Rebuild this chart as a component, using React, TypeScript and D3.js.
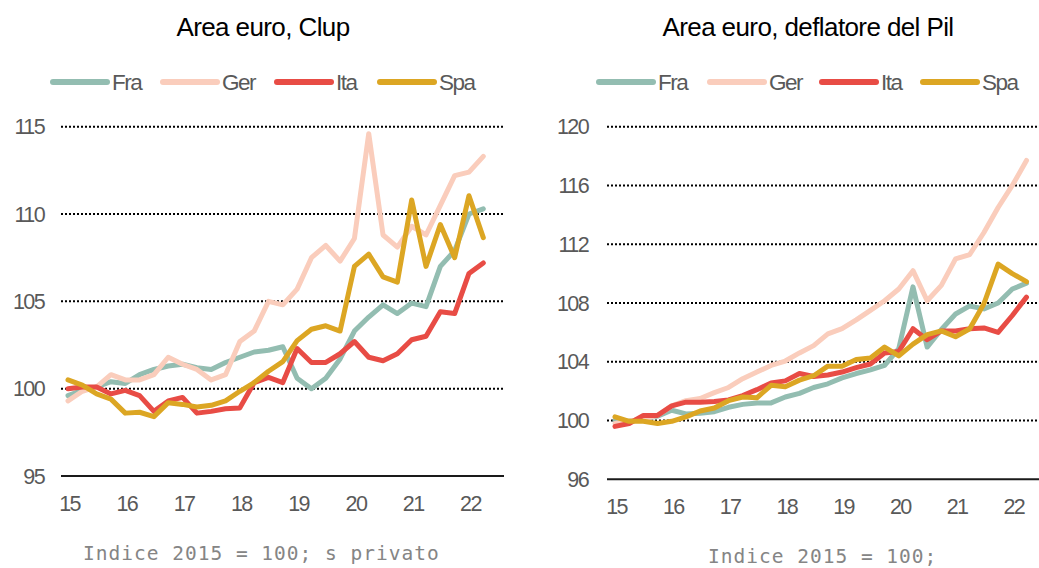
import React from "react";
import * as d3 from "d3";

// quarterly observations 2015Q1 .. 2022Q2
const quarters = d3.range(30);
const yearLabels = ["15", "16", "17", "18", "19", "20", "21", "22"];
const seriesNames = ["Fra", "Ger", "Ita", "Spa"];
const seriesColors = ["#93BDB1", "#FACDBC", "#E84C45", "#DCA623"];

// Left: Clup
const fraClup = [99.6, 99.9, 100.1, 100.4, 100.3, 100.8, 101.1, 101.3, 101.4, 101.2, 101.1, 101.5, 101.8, 102.1, 102.2, 102.4, 100.6, 100.0, 100.6, 101.7, 103.3, 104.1, 104.8, 104.3, 104.9, 104.7, 107.0, 107.9, 110.0, 110.3];
const gerClup = [99.3, 99.85, 100.1, 100.8, 100.5, 100.5, 100.8, 101.8, 101.4, 101.1, 100.5, 100.8, 102.7, 103.3, 105.0, 104.8, 105.7, 107.5, 108.2, 107.3, 108.6, 114.6, 108.8, 108.1, 109.3, 108.8, 110.5, 112.2, 112.4, 113.3];
const itaClup = [100.0, 100.1, 100.1, 99.7, 99.9, 99.6, 98.7, 99.3, 99.5, 98.6, 98.7, 98.85, 98.9, 100.35, 100.65, 100.35, 102.3, 101.5, 101.5, 102.0, 102.7, 101.8, 101.6, 102.0, 102.8, 103.0, 104.4, 104.3, 106.6, 107.2];
const spaClup = [100.5, 100.2, 99.7, 99.4, 98.6, 98.65, 98.4, 99.2, 99.1, 98.95, 99.05, 99.3, 99.85, 100.35, 101.0, 101.55, 102.75, 103.4, 103.6, 103.3, 107.0, 107.7, 106.4, 106.1, 110.8, 107.0, 109.4, 107.5, 111.05, 108.65];
const clupTicks = [95, 100, 105, 110, 115];

// Right: deflatore del Pil
const fraDef = [100.0, 99.95, 100.1, 100.3, 100.7, 100.45, 100.5, 100.6, 100.9, 101.1, 101.2, 101.2, 101.6, 101.85, 102.25, 102.5, 102.9, 103.2, 103.45, 103.75, 104.9, 109.1, 105.0, 106.2, 107.25, 107.8, 107.6, 108.0, 108.95, 109.35];
const gerDef = [99.8, 99.95, 100.1, 100.35, 101.0, 101.35, 101.5, 101.9, 102.25, 102.85, 103.3, 103.75, 104.05, 104.6, 105.1, 105.9, 106.25, 106.85, 107.5, 108.15, 108.95, 110.2, 108.15, 109.2, 111.0, 111.3, 112.8, 114.5, 116.0, 117.7];
const itaDef = [99.6, 99.8, 100.35, 100.35, 101.0, 101.25, 101.25, 101.3, 101.4, 101.7, 102.1, 102.55, 102.7, 103.2, 103.0, 103.1, 103.3, 103.6, 103.85, 104.6, 104.7, 106.25, 105.5, 106.1, 106.1, 106.25, 106.3, 106.0, 107.15, 108.4];
const spaDef = [100.25, 99.95, 99.95, 99.8, 99.95, 100.25, 100.65, 100.85, 101.35, 101.6, 101.55, 102.4, 102.3, 102.75, 103.05, 103.7, 103.7, 104.15, 104.25, 105.0, 104.4, 105.2, 105.85, 106.1, 105.7, 106.25, 107.95, 110.65, 110.0, 109.45];
const defTicks = [96, 100, 104, 108, 112, 116, 120];

const SANS = "'Liberation Sans', Arial, sans-serif";
const MONO = "'DejaVu Sans Mono', monospace";

type PanelProps = {
  title: string;
  titleX: number;
  note: string;
  noteX: number;
  noteY: number;
  series: number[][];
  ticks: number[];
  xRange: [number, number];
  yRange: [number, number];
  gridX: [number, number];
  yLabelX: number;
  xLabelY: number;
  legendX: number[];
};

function Panel(p: PanelProps) {
  const x = d3.scaleLinear().domain([0, 29]).range(p.xRange);
  const y = d3
    .scaleLinear()
    .domain([p.ticks[0], p.ticks[p.ticks.length - 1]])
    .range(p.yRange);
  const line = d3
    .line<number>()
    .x((_, i) => x(quarters[i]))
    .y((d) => y(d));
  return (
    <g>
      <text
        x={p.titleX}
        y={36}
        textAnchor="middle"
        fontFamily={SANS}
        fontSize={26}
        letterSpacing={-0.6}
        fill="#000"
      >
        {p.title}
      </text>
      {seriesNames.map((n, i) => (
        <g key={n}>
          <line
            x1={p.legendX[i]}
            x2={p.legendX[i] + 54}
            y1={82}
            y2={82}
            stroke={seriesColors[i]}
            strokeWidth={6}
            strokeLinecap="round"
          />
          <text
            x={p.legendX[i] + 59}
            y={90}
            fontFamily={SANS}
            fontSize={22.5}
            letterSpacing={-1.5}
            fill="#595959"
          >
            {n}
          </text>
        </g>
      ))}
      {p.ticks.map((t, i) => (
        <g key={t}>
          {i > 0 && (
            <line
              x1={p.gridX[0]}
              x2={p.gridX[1]}
              y1={y(t)}
              y2={y(t)}
              stroke="#000"
              strokeWidth={2}
              strokeDasharray="2 2"
            />
          )}
          <text
            x={p.yLabelX}
            y={y(t) + 7.5}
            textAnchor="end"
            fontFamily={SANS}
            fontSize={21.5}
            letterSpacing={-1.6}
            fill="#595959"
          >
            {t}
          </text>
        </g>
      ))}
      <line
        x1={p.gridX[0]}
        x2={p.gridX[1]}
        y1={y(p.ticks[0])}
        y2={y(p.ticks[0])}
        stroke="#1a1a1a"
        strokeWidth={2}
      />
      {yearLabels.map((l, i) => (
        <text
          key={l}
          x={x(i * 4) + 1.5}
          y={p.xLabelY}
          textAnchor="middle"
          fontFamily={SANS}
          fontSize={21.5}
          letterSpacing={-1.6}
          fill="#595959"
        >
          {l}
        </text>
      ))}
      {p.series.map((s, i) => (
        <path
          key={i}
          d={line(s) || ""}
          fill="none"
          stroke={seriesColors[i]}
          strokeWidth={5}
          strokeLinejoin="round"
          strokeLinecap="round"
        />
      ))}
      <text
        x={p.noteX}
        y={p.noteY}
        fontFamily={MONO}
        fontSize={19.5}
        letterSpacing={1}
        fill="#858585"
      >
        {p.note}
      </text>
    </g>
  );
}

export default function App() {
  return (
    <svg
      width={1039}
      height={568}
      style={{ position: "absolute", left: 0, top: 0, background: "#fff" }}
    >
      <rect width={1039} height={568} fill="#fff" />
      <Panel
        title="Area euro, Clup"
        titleX={263}
        note="Indice 2015 = 100; s privato"
        noteX={83}
        noteY={560}
        series={[fraClup, gerClup, itaClup, spaClup]}
        ticks={clupTicks}
        xRange={[68, 483.3]}
        yRange={[476, 126.7]}
        gridX={[61, 504]}
        yLabelX={44}
        xLabelY={511}
        legendX={[53, 163, 277, 380]}
      />
      <Panel
        title="Area euro, deflatore del Pil"
        titleX={808}
        note="Indice 2015 = 100;"
        noteX={708}
        noteY={563}
        series={[fraDef, gerDef, itaDef, spaDef]}
        ticks={defTicks}
        xRange={[615, 1026.5]}
        yRange={[479.3, 126.7]}
        gridX={[607, 1039]}
        yLabelX={588}
        xLabelY={514}
        legendX={[599, 710, 822, 923]}
      />
    </svg>
  );
}
